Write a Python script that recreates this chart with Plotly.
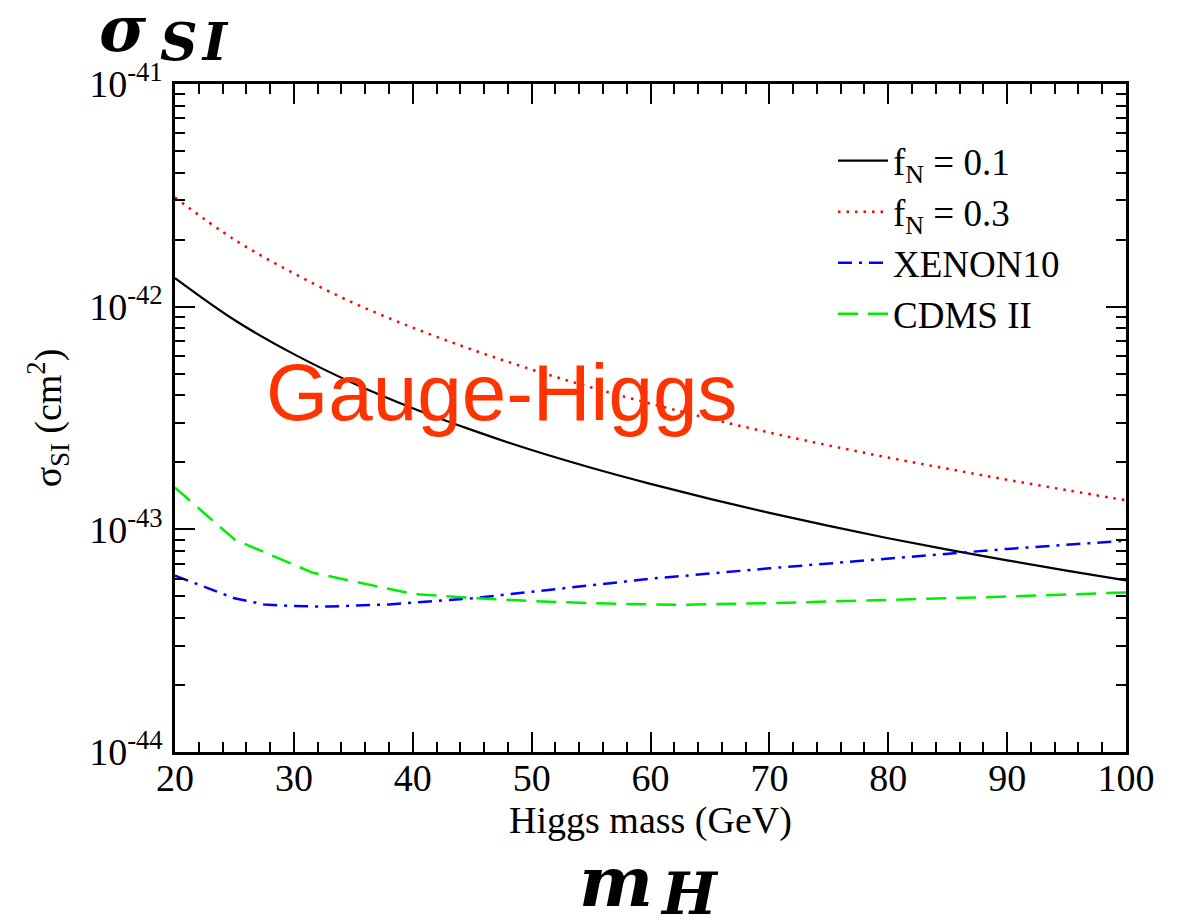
import plotly.graph_objects as go

# ---------------- data ----------------
mass_th = [20, 25, 30, 35, 40, 45, 50, 55, 60, 65, 70, 75, 80, 85, 90, 95, 100]
sigma_fn01 = [1.343e-42, 8.71e-43, 6.12e-43, 4.53e-43, 3.50e-43, 2.79e-43, 2.27e-43,
              1.89e-43, 1.60e-43, 1.37e-43, 1.185e-43, 1.036e-43, 9.12e-44, 8.11e-44,
              7.26e-44, 6.53e-44, 5.90e-44]
sigma_fn03 = [3.09e-42, 2.00e-42, 1.41e-42, 1.04e-42, 8.05e-43, 6.41e-43, 5.22e-43,
              4.34e-43, 3.67e-43, 3.14e-43, 2.72e-43, 2.38e-43, 2.10e-43, 1.87e-43,
              1.67e-43, 1.50e-43, 1.35e-43]

mass_xenon = [20, 22.5, 25, 27.5, 30, 33, 38, 45, 52, 60, 70, 80, 90, 100]
sigma_xenon = [6.2e-44, 5.50e-44, 4.90e-44, 4.60e-44, 4.52e-44, 4.50e-44, 4.60e-44,
               4.90e-44, 5.38e-44, 6.0e-44, 6.68e-44, 7.41e-44, 8.17e-44, 8.89e-44]

mass_cdms = [20, 25, 31.6, 40, 45, 50, 55, 62, 70, 80, 90, 100]
sigma_cdms = [1.54e-43, 9.0e-44, 6.38e-44, 5.13e-44, 4.92e-44, 4.76e-44, 4.66e-44,
              4.58e-44, 4.66e-44, 4.81e-44, 4.99e-44, 5.21e-44]

x_ticks = [20, 30, 40, 50, 60, 70, 80, 90, 100]
y_decades = [-44, -43, -42, -41]

# ---------------- figure ----------------
W, H = 1183, 919
L, R, T, B = 175, 57, 84, 167
pw, ph = W - L - R, H - T - B

def px(xp):
    return (xp - L) / pw

def py(yp):
    return (H - B - yp) / ph

SERIF = "Liberation Serif"
MATH = "DejaVu Serif"

fig = go.Figure()
fig.add_trace(go.Scatter(x=mass_th, y=sigma_fn01, mode="lines", name="f<sub>N</sub> = 0.1",
                         line=dict(color="black", width=2.2, shape="spline")))
fig.add_trace(go.Scatter(x=mass_th, y=sigma_fn03, mode="lines", name="f<sub>N</sub> = 0.3",
                         line=dict(color="#ff0000", width=2.5, dash="2.5px,6px", shape="spline")))
fig.add_trace(go.Scatter(x=mass_xenon, y=sigma_xenon, mode="lines", name="XENON10",
                         line=dict(color="#0000ff", width=2.5, dash="14px,7px,3px,7px")))
fig.add_trace(go.Scatter(x=mass_cdms, y=sigma_cdms, mode="lines", name="CDMS II",
                         line=dict(color="#00ee00", width=2.5, dash="20px,10px")))

minor_y = [k * 10.0 ** d for d in y_decades[:-1] for k in range(2, 10)]

fig.update_layout(
    width=W, height=H,
    margin=dict(l=L, r=R, t=T, b=B),
    plot_bgcolor="white", paper_bgcolor="white",
    font=dict(family=SERIF, size=38, color="black"),
    showlegend=True,
    legend=dict(x=px(833), y=py(130), xanchor="left", yanchor="top",
                bgcolor="rgba(0,0,0,0)", font=dict(family=SERIF, size=37),
                tracegroupgap=0, itemwidth=50),
    xaxis=dict(range=[20, 100], tickvals=x_ticks, ticktext=[str(v) for v in x_ticks],
               ticks="inside", ticklen=20, tickwidth=2, tickcolor="black",
               showline=True, linewidth=2.5, linecolor="black", mirror="ticks",
               showgrid=False, zeroline=False,
               tickfont=dict(family=SERIF, size=38), ticklabelstandoff=-9,
               minor=dict(dtick=2, ticks="inside", ticklen=10, tickwidth=2, tickcolor="black", showgrid=False),
               title=dict(text="Higgs mass (GeV)", font=dict(family=SERIF, size=38), standoff=1)),
    yaxis=dict(type="log", range=[-44, -41],
               tickvals=[10.0 ** d for d in y_decades],
               ticktext=["10<sup>%d</sup>" % d for d in y_decades],
               ticks="inside", ticklen=20, tickwidth=2, tickcolor="black",
               showline=True, linewidth=2.5, linecolor="black", mirror="ticks",
               showgrid=False, zeroline=False,
               tickfont=dict(family=SERIF, size=38), ticklabelstandoff=2,
               minor=dict(tickvals=minor_y, ticks="inside", ticklen=10, tickwidth=2, tickcolor="black", showgrid=False),
               title=dict(text="σ<sub>SI</sub> (cm<sup>2</sup>)", font=dict(family=SERIF, size=38), standoff=16)),
)

annots = [
    dict(text="<b><i>σ</i></b>", x=px(123), y=py(28), size=64, family=MATH, color="black"),
    dict(text="<b><i>S\u200aI</i></b>", x=px(194), y=py(41), size=52, family=MATH, color="black"),
    dict(text="<b><i>m</i></b>", x=px(616), y=py(881), size=70, family=MATH, color="black"),
    dict(text="<b><i>H</i></b>", x=px(689), y=py(894), size=58, family=MATH, color="black"),
    dict(text="Gauge-Higgs", x=px(501), y=py(393), size=80, family="Liberation Sans", color="#ff3300"),
]
for a in annots:
    fig.add_annotation(text=a["text"], x=a["x"], y=a["y"], xref="paper", yref="paper",
                       xanchor="center", yanchor="middle", showarrow=False,
                       font=dict(family=a["family"], size=a["size"], color=a["color"]))

fig.write_html("out.html")
